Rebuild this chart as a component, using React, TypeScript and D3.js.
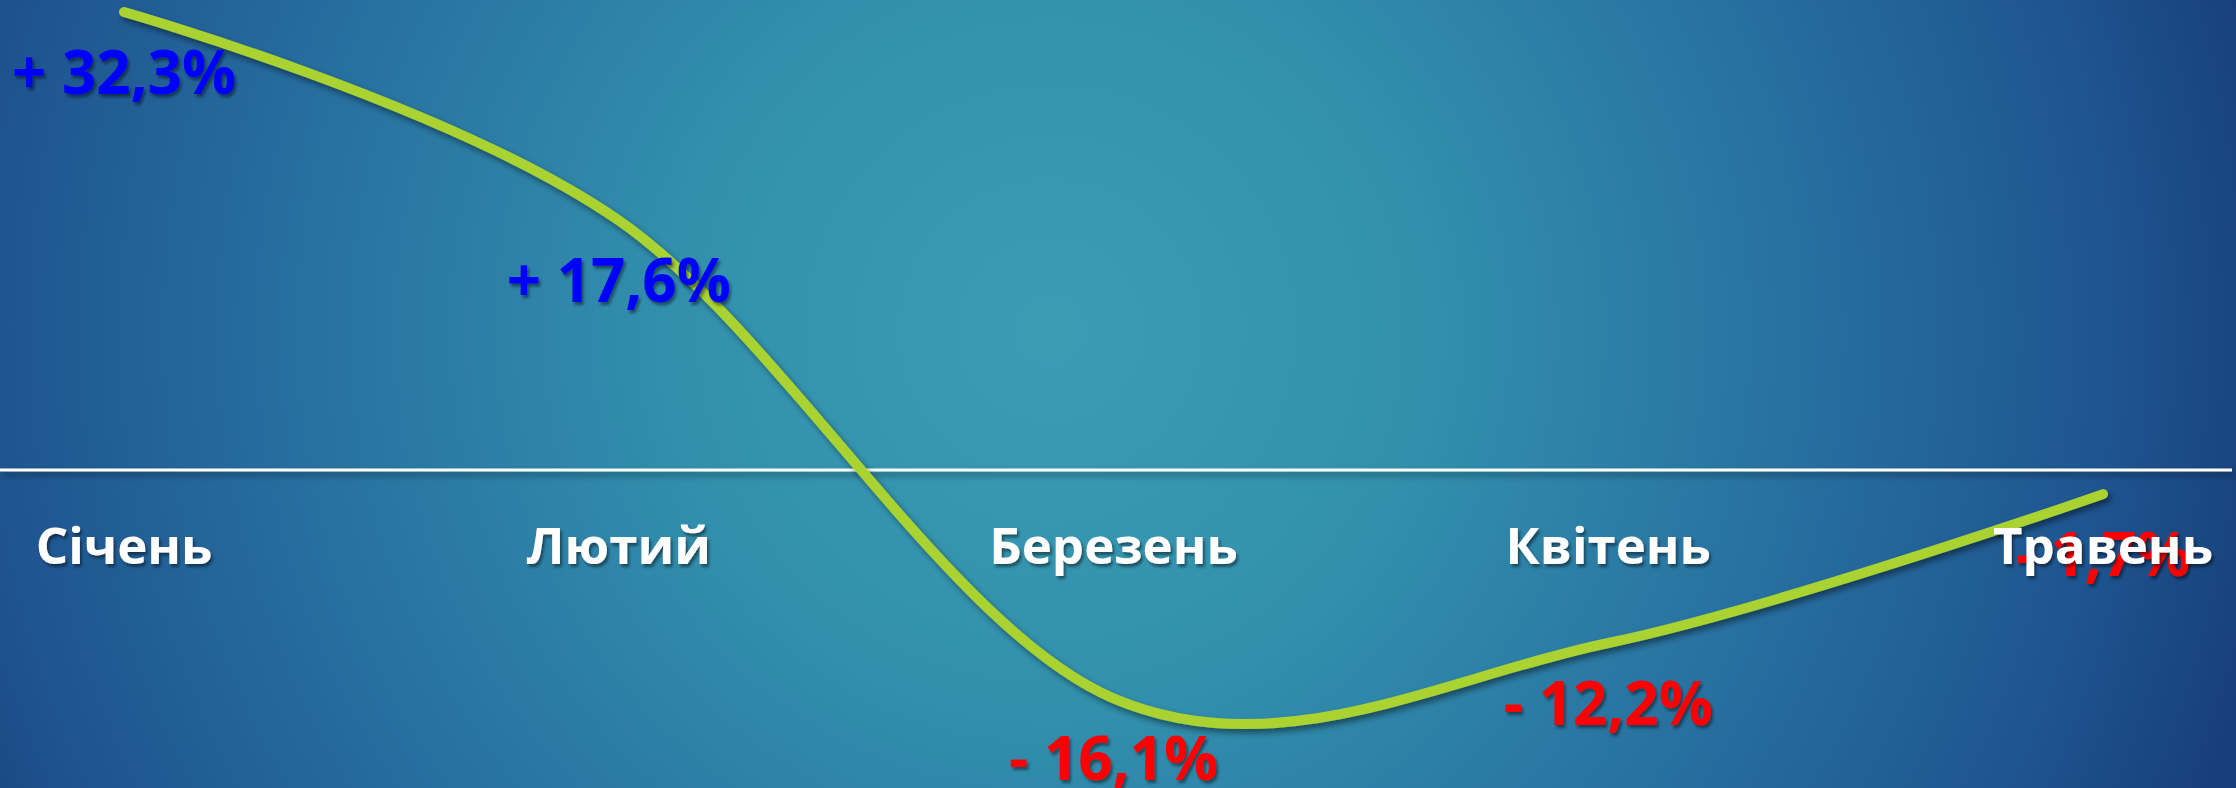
import React from "react";
import * as d3 from "d3";

const months = ["Січень", "Лютий", "Березень", "Квітень", "Травень"];
const values = [32.3, 17.6, -16.1, -12.2, -1.7];
const valueLabels = ["+ 32,3%", "+ 17,6%", "- 16,1%", "- 12,2%", "- 1,7%"];

const W = 2236;
const H = 788;

export default function App() {
  const x = d3.scalePoint<string>().domain(months).range([124, 2103]);
  const y = d3.scaleLinear().domain([0, 32.3]).range([470, 12]);
  const pts = months.map((m, i) => ({ m, v: values[i], l: valueLabels[i] }));
  const line = d3
    .line<{ m: string; v: number }>()
    .x((d) => x(d.m) as number)
    .y((d) => y(d.v))
    .curve(d3.curveCardinal.tension(0));
  const font = "'Century Gothic', 'Open Sans', sans-serif";
  return (
    <svg
      width={W}
      height={H}
      style={{ position: "absolute", left: 0, top: 0, display: "block" }}
    >
      <defs>
        <radialGradient
          id="bg"
          gradientUnits="userSpaceOnUse"
          cx={1050}
          cy={330}
          r={1250}
        >
          <stop offset="0" stopColor="#3a9db4" />
          <stop offset="0.3" stopColor="#3290ad" />
          <stop offset="0.6" stopColor="#2770a0" />
          <stop offset="0.85" stopColor="#1e5490" />
          <stop offset="1" stopColor="#173e7a" />
        </radialGradient>
        <filter id="sh" filterUnits="userSpaceOnUse" x={0} y={0} width={W} height={H}>
          <feDropShadow dx="3" dy="4" stdDeviation="3" floodColor="#000" floodOpacity="0.45" />
        </filter>
        <filter id="tsh" x="-10%" y="-20%" width="120%" height="140%">
          <feDropShadow dx="2" dy="3" stdDeviation="1.5" floodColor="#000" floodOpacity="0.45" />
        </filter>
      </defs>
      <rect x={0} y={0} width={W} height={H} fill="url(#bg)" />
      <rect
        x={0}
        y={y(0) - 1.5}
        width={W - 4}
        height={3}
        fill="#ffffff"
        filter="url(#sh)"
      />
      <path
        d={line(pts) || ""}
        fill="none"
        stroke="#aad332"
        strokeWidth={10}
        strokeLinecap="round"
        filter="url(#sh)"
      />
      {pts.map((d) => (
        <text
          key={"v" + d.m}
          x={x(d.m)}
          y={y(d.v) + 82}
          textAnchor="middle"
          fontFamily={font}
          fontWeight="bold"
          fontSize={60}
          fill={d.v >= 0 ? "#0000ff" : "#ff0000"}
          filter="url(#tsh)"
        >
          {d.l}
        </text>
      ))}
      {pts.map((d) => (
        <text
          key={"m" + d.m}
          x={x(d.m)}
          y={564}
          textAnchor="middle"
          fontFamily={font}
          fontWeight="bold"
          fontSize={51}
          fill="#ffffff"
          filter="url(#tsh)"
        >
          {d.m}
        </text>
      ))}
    </svg>
  );
}
